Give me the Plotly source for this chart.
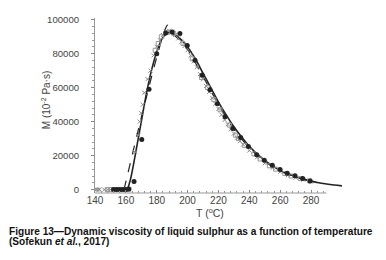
import plotly.graph_objects as go

# Filled circles (black)
circ_T = [152, 154, 156, 158, 160, 162, 165.3, 170.3, 175, 180, 185.8, 190, 195, 199.8, 204.8, 209.5, 214.5, 219.3,
          224.3, 229.3, 234.4, 239.4, 244.8, 249.7, 254.9, 259.9, 264.6, 269.6, 274.6, 279.4]
circ_M = [0, 0, 0, 0, 0, 300, 4700, 29500, 59000, 80000, 92200, 92800, 91900, 84800, 76100, 67300, 58800, 50600,
          42900, 36000, 30700, 25400, 20500, 17300, 14300, 11800, 9600, 8100, 6500, 5100]

# Grey crosses
cross_T = [140, 141, 142, 143, 146, 148, 150, 152, 154, 156, 158, 160, 162, 166, 168, 169, 170, 171, 172, 174, 176,
           178, 180, 182, 184, 186, 188, 190, 192, 194, 196, 198, 200, 202, 204, 206, 208, 210, 212, 214, 216, 218,
           220, 222, 224, 226, 228, 230, 232, 234, 236, 240, 245, 250, 255, 260, 265, 270, 275, 280]
cross_M = [0, 0, 0, 0, 0, 0, 0, 0, 0, 0, 0, 0, 0, 22000, 32000, 40000, 45000, 50000, 57000, 65000, 70000,
           79000, 84000, 88000, 91000, 93000, 93500, 93000, 91000, 89000, 87000, 84500, 82000, 79000, 75500, 72000,
           68000, 65000, 61000, 57500, 54000, 50500, 47500, 44000, 41000, 38500, 35500, 33000, 30500, 28500, 26500,
           23000, 19000, 15500, 12800, 10500, 8500, 7000, 5800, 4700]

# Grey open squares
sq_T = [148, 150, 153, 155, 157, 159, 161, 179, 181, 183, 187, 191, 197, 203, 209, 213, 217, 221, 227, 231, 233,
        237, 243, 247, 253, 257, 263, 267, 273, 279]
sq_M = [0, 0, 0, 0, 0, 0, 0, 82000, 86000, 90000, 92500, 92000, 86000, 77000, 66000, 60000, 53000, 47000,
        38000, 32000, 30000, 26000, 21000, 18000, 14000, 12000, 9500, 8000, 6500, 5200]

# Solid fit curve
solid_T = [161, 163, 165, 168, 170, 173, 176, 180, 184, 188, 190, 195, 200, 205, 210, 215, 220, 225, 230, 235,
           240, 245, 250, 255, 260, 265, 270, 275, 280, 285, 290, 295, 300]
solid_M = [0, 6000, 15000, 30000, 40000, 55000, 68000, 81000, 89500, 92500, 92000, 89000, 84000, 77000, 68500,
           60000, 51500, 44000, 37000, 31000, 25500, 21000, 17200, 14000, 11300, 9300, 7600, 6200, 5000, 4000,
           3300, 2700, 2200]

# Dashed fit curve
dash_T = [158.8, 187, 190, 195, 200, 210, 220, 230, 240, 250, 260, 270, 280]
dash_M = [0, 96800, 92000, 88000, 82500, 66500, 50000, 35500, 24500, 16500, 11000, 7300, 4800]

x_ticks = [140, 160, 180, 200, 220, 240, 260, 280]
y_ticks = [0, 20000, 40000, 60000, 80000, 100000]
y_labels = ["0", "20000", "40000", "60000", "80000", "100000"]

FONT = "Liberation Sans, Arial, sans-serif"
W, H = 378, 252
L, T = 87, 10
PW, PH = 250, 174.6

fig = go.Figure()
fig.add_trace(go.Scatter(x=solid_T, y=solid_M, mode="lines", line=dict(color="#222", width=1.6, shape="spline"),
                         showlegend=False))
fig.add_trace(go.Scatter(x=dash_T, y=dash_M, mode="lines",
                         line=dict(color="#222", width=1.2, dash="dash", shape="spline", smoothing=0.6),
                         showlegend=False))
fig.add_trace(go.Scatter(x=cross_T, y=cross_M, mode="markers",
                         marker=dict(symbol="x-thin-open", size=4, color="#888", line=dict(width=1, color="#888")),
                         showlegend=False))
fig.add_trace(go.Scatter(x=sq_T, y=sq_M, mode="markers",
                         marker=dict(symbol="square-open", size=4, color="#999", line=dict(width=1, color="#999")),
                         showlegend=False))
fig.add_trace(go.Scatter(x=circ_T, y=circ_M, mode="markers",
                         marker=dict(symbol="circle", size=5, color="#222"), showlegend=False))

minor_x = [v for v in range(140, 292, 4)]
minor_y = [v for v in range(0, 100001, 4000)]

fig.update_layout(
    width=W, height=H,
    margin=dict(l=L, r=W - L - PW, t=T, b=H - T - PH, autoexpand=False),
    paper_bgcolor="white", plot_bgcolor="white",
    font=dict(family=FONT, color="#444", size=10),
    xaxis=dict(range=[140, 302], tickvals=x_ticks, ticks="inside", ticklen=3, tickcolor="#888",
               showline=False, showgrid=False, zeroline=False, automargin=False,
               tickfont=dict(size=10),
               minor=dict(tickvals=minor_x, ticks="inside", ticklen=2, tickcolor="#999")),
    yaxis=dict(range=[-2000, 101000], tickvals=y_ticks, ticktext=y_labels, ticks="outside", ticklen=3,
               tickcolor="#888", showline=True, linecolor="#999", linewidth=1, showgrid=False, zeroline=False,
               ticklabelstandoff=10, automargin=False, tickfont=dict(size=9.6),
               minor=dict(tickvals=minor_y, ticks="outside", ticklen=2, tickcolor="#999")),
)
fig.add_shape(type="line", xref="x", yref="paper", x0=140, x1=290, y0=0, y1=0,
              line=dict(color="#999", width=1))
# axis titles
fig.add_annotation(text="T (<sup>o</sup>C)", xref="paper", yref="paper", x=(202 - L) / PW, y=-19.5 / PH,
                   xanchor="center", yanchor="middle", showarrow=False, font=dict(size=10.5, color="#444", family=FONT))
fig.add_annotation(text="M (10<sup>-2</sup> Pa·s)", xref="paper", yref="paper", x=(38 - L) / PW,
                   y=(184.6 - 92) / PH, textangle=-90, xanchor="center", yanchor="middle", showarrow=False,
                   font=dict(size=10, color="#444", family=FONT))
# caption
fig.add_annotation(text="<b>Figure 13—Dynamic viscosity of liquid sulphur as a function of temperature</b>",
                   xref="paper", yref="paper", x=-88 / PW, y=-38.8 / PH, xanchor="left", yanchor="middle",
                   showarrow=False, font=dict(size=10.1, color="#111", family=FONT))
fig.add_annotation(text="<b>(Sofekun <i>et al.</i>, 2017)</b>",
                   xref="paper", yref="paper", x=-88 / PW, y=-48 / PH, xanchor="left", yanchor="middle",
                   showarrow=False, font=dict(size=10.1, color="#111", family=FONT))

fig.write_html("out.html")
